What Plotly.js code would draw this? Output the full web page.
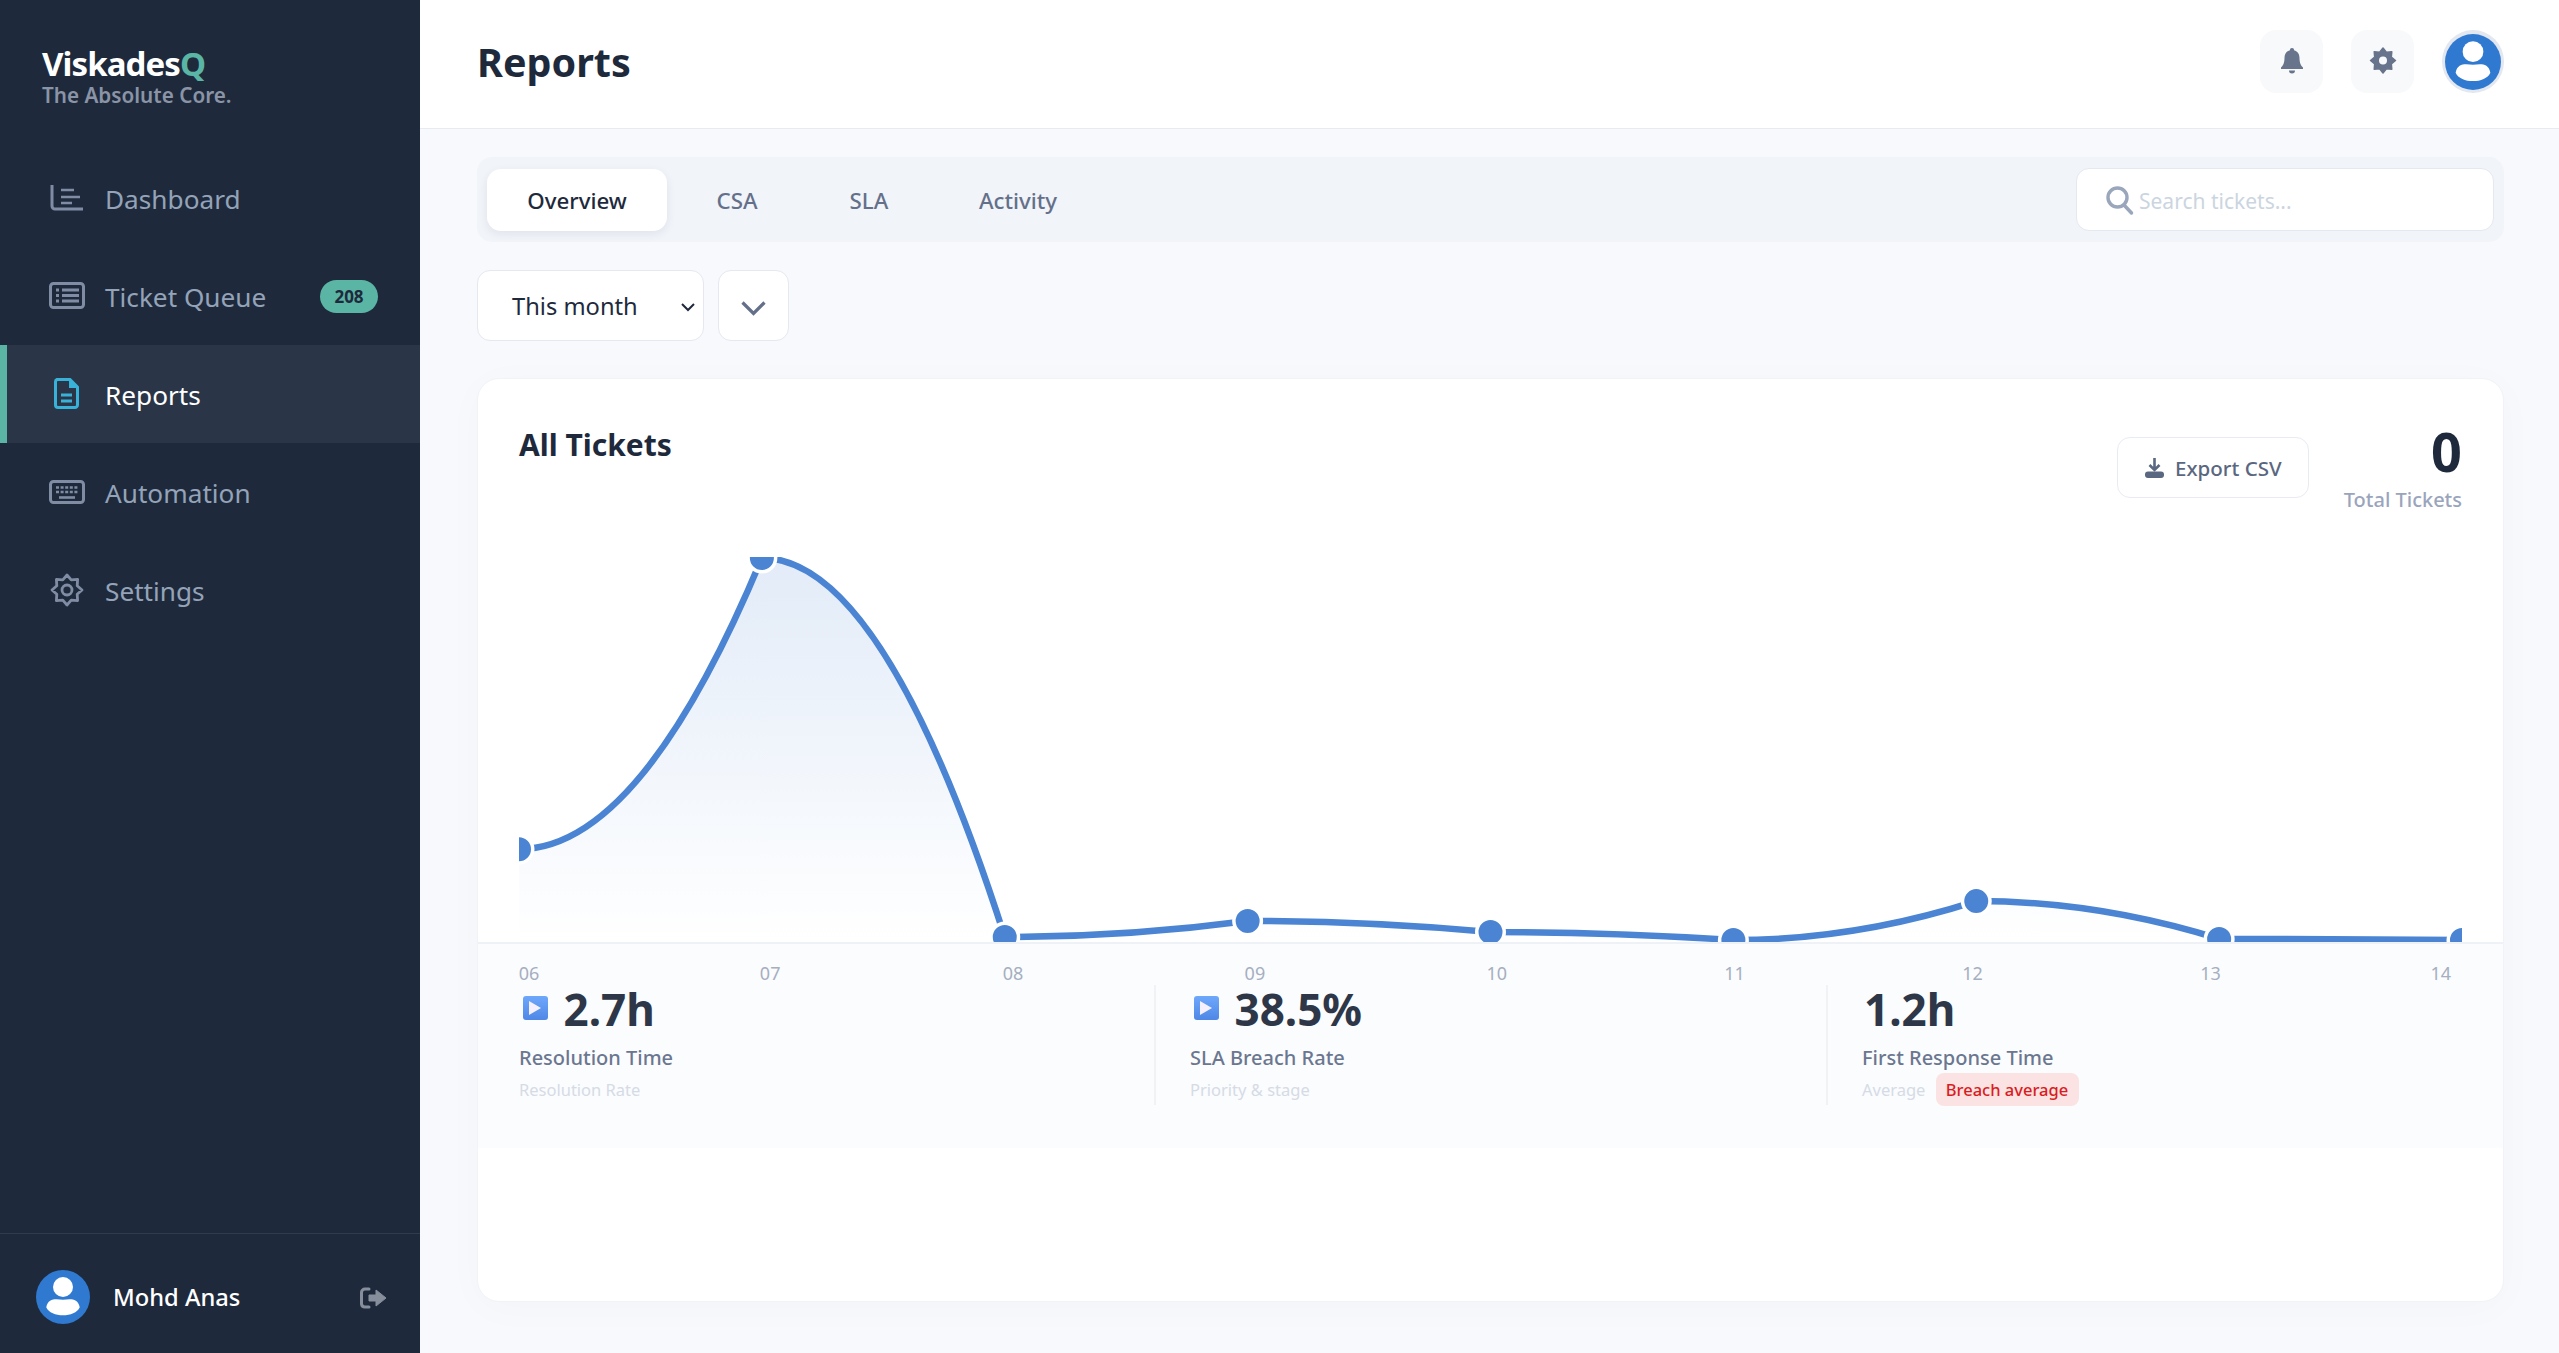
<!DOCTYPE html>
<html><head><meta charset="utf-8">
<script src="https://cdn.plot.ly/plotly-3.0.1.min.js"></script>
<style>
html,body{margin:0;padding:0;background:#f8f9fc;width:2559px;height:1353px;overflow:hidden;font-family:"Noto Sans","Open Sans",sans-serif;}
.b{position:absolute;box-sizing:border-box;}
.t{position:absolute;white-space:nowrap;line-height:1;transform:translateY(-50%);}
.c{transform:translate(-50%,-50%);}
.r{transform:translate(-100%,-50%);}
svg{position:absolute;overflow:visible;}
#chart{position:absolute;left:478px;top:500px;width:2026px;height:520px;}
</style></head><body>
<div id="root"></div>
<div id="chart"></div>
<div id="over"></div>
<script>
// ---- chart data ----
const categories = ['06','07','08','09','10','11','12','13','14'];
const ticketValues = [23.8,100,0.8,5,2.1,0,10.2,0.3,0];
// ---- interface text ----
const navItems = ['Dashboard','Ticket Queue','Reports','Automation','Settings'];
const tabs = ['Overview','CSA','SLA','Activity'];
const statValues = ['2.7h','38.5%','1.2h'];
const statLabels = ['Resolution Time','SLA Breach Rate','First Response Time'];
const statNotes = ['Resolution Rate','Priority & stage','Average'];

const root = document.getElementById('root'), over = document.getElementById('over');
function box(x,y,w,h,css,parent){const d=document.createElement('div');d.className='b';
  d.style.cssText=`left:${x}px;top:${y}px;width:${w}px;height:${h}px;${css||''}`;(parent||root).appendChild(d);return d;}
function txt(x,y,s,size,color,weight,align,parent){const d=document.createElement('div');d.className='t'+(align?' '+align:'');
  d.textContent=s;d.style.cssText=`left:${x}px;top:${y}px;font-size:${size}px;color:${color};font-weight:${weight||400};`;(parent||root).appendChild(d);return d;}
function icon(x,y,w,h,vb,inner,parent){const wrap=document.createElement('div');
  wrap.innerHTML=`<svg style="left:${x}px;top:${y}px" width="${w}" height="${h}" viewBox="${vb}" preserveAspectRatio="none">${inner}</svg>`;(parent||root).appendChild(wrap);}

// sidebar
box(0,0,420,1353,'background:#1e2a3c');
box(0,345,420,98,'background:#2a3648');
box(0,345,7,98,'background:#5ab5a5');
box(0,1233,420,1,'background:#303c4e');
const lg=txt(42,62.5,'Viskades',33,'#ffffff',700);lg.style.letterSpacing='-0.9px';
txt(42+lg.offsetWidth,62.5,'Q',33,'#5ab5a5',700);
txt(42,95,'The Absolute Core.',20.7,'#8a94a6',600);
navItems.forEach((s,i)=>txt(105,199+98*i,s,26.2,i===2?'#ffffff':'#94a3b8',400));
box(320,280,58,33,'background:#5ab5a5;border-radius:17px');
txt(349,296,'208',17,'#1e2a3c',700,'c');
const ic='#7f8ca3';
icon(50,184,33,27,'0 0 33 27',`<path d="M2 1V22a3 3 0 0 0 3 3H33" fill="none" stroke="${ic}" stroke-width="3"/><path d="M11 6H24M11 13H30M11 19H22" stroke="${ic}" stroke-width="2.6"/>`);
icon(49,282,36,27,'0 0 36 27',`<rect x="1.5" y="1.5" width="33" height="24" rx="3" fill="none" stroke="${ic}" stroke-width="3"/><path d="M7 8h3M7 13.5h3M7 19h3M13 8H30M13 13.5H30M13 19H30" stroke="${ic}" stroke-width="2.8"/>`);
icon(54,378,25,31,'0 0 25 31',`<path d="M3 1.5H16L23.5 9V27a2.5 2.5 0 0 1-2.5 2.5H4A2.5 2.5 0 0 1 1.5 27V4A2.5 2.5 0 0 1 3 1.5Z" fill="none" stroke="#38b2d8" stroke-width="3"/><path d="M15 1.5L23.5 10H15Z" fill="#38b2d8"/><path d="M7 17H18M7 23H18" stroke="#38b2d8" stroke-width="2.8"/>`);
icon(49,480,36,24,'0 0 36 24',`<rect x="1.5" y="1.5" width="33" height="21" rx="3" fill="none" stroke="${ic}" stroke-width="3"/><path d="M7 7.5H30M7 12H30" stroke="${ic}" stroke-width="2.6" stroke-dasharray="3 1.6"/><path d="M10 17.5H26" stroke="${ic}" stroke-width="2.6"/>`);
const gearPts=(cx,cy,R,r,n)=>{let p=[];for(let i=0;i<2*n;i++){const a=Math.PI*i/n-Math.PI/2,m=i%2?r:R;p.push((cx+m*Math.cos(a)).toFixed(1)+','+(cy+m*Math.sin(a)).toFixed(1));}return p.join(' ');};
icon(51,574,32,32,'0 0 32 32',`<polygon points="${gearPts(16,16,15,11,8)}" fill="none" stroke="${ic}" stroke-width="2.8" stroke-linejoin="round"/><circle cx="16" cy="16" r="5" fill="none" stroke="${ic}" stroke-width="2.8"/>`);
// sidebar user
const person=(cx,cy,R)=>`<circle cx="${cx}" cy="${cy}" r="${R}" fill="#3079d0"/><circle cx="${cx}" cy="${cy-R*0.37}" r="${R*0.37}" fill="#fff"/><path d="M${cx-R*0.62} ${cy+R*0.38}C${cx-R*0.55} ${cy+R*0.02} ${cx-R*0.25} ${cy+R*0.08} ${cx} ${cy+R*0.1}C${cx+R*0.25} ${cy+R*0.08} ${cx+R*0.55} ${cy+R*0.02} ${cx+R*0.62} ${cy+R*0.38}C${cx+R*0.45} ${cy+R*0.78} ${cx-R*0.45} ${cy+R*0.78} ${cx-R*0.62} ${cy+R*0.38}Z" fill="#fff"/>`;
icon(36,1270,54,54,'36 1270 54 54',person(63,1297,27));
txt(113,1298,'Mohd Anas',23.7,'#ffffff',500);
icon(360,1287,27,22,'0 0 27 22',`<path d="M9 2H5a3.5 3.5 0 0 0-3.5 3.5V17A3.5 3.5 0 0 0 5 20H9" fill="none" stroke="#868e9b" stroke-width="3" stroke-linecap="round"/><path d="M9 8H16V3L26 11L16 19V14H9Z" fill="#868e9b" stroke="#868e9b" stroke-linejoin="round"/>`);

// header
box(420,0,2139,129,'background:#fff;border-bottom:1.5px solid #e6eaf1');
txt(477,62.5,'Reports',39.5,'#1e2a3c',700);
box(2260,30,63,63,'background:#f8f9fb;border-radius:16px');
box(2351,30,63,63,'background:#f8f9fb;border-radius:16px');
icon(2281,48,22,26,'0 0 22 26',`<path d="M11 0a2 2 0 0 1 2 2.3C17 3.4 18.5 6.5 18.5 10C18.5 15 20 17.5 22 19.5V21H0V19.5C2 17.5 3.5 15 3.5 10C3.5 6.5 5 3.4 9 2.3A2 2 0 0 1 11 0ZM8 22.5H14A3 3 0 0 1 8 22.5Z" fill="#68748b"/>`);
icon(2371,48,24,25,'0 0 24 25',`<polygon points="${gearPts(12,12.5,12.5,9,8)}" fill="#68748b" stroke="#68748b" stroke-width="1.5" stroke-linejoin="round"/><circle cx="12" cy="12.5" r="4" fill="#f8f9fb"/>`);
box(2442,30,62,63,'background:#e2e7f0;border-radius:50%');
icon(2445,33.5,56,56,'2445 33 56 56',person(2473,61,28));

// tabs
box(477,157,2027,85,'background:#f1f4f9;border-radius:15px');
box(487,169,180,62,'background:#fff;border-radius:14px;box-shadow:0 3px 10px rgba(30,42,60,.08)');
[577,737,869,1018].forEach((x,i)=>txt(x,201,tabs[i],22.3,i===0?'#1e2a3c':'#64708a',500,'c'));
box(2076,168,418,63,'background:#fff;border:1.5px solid #e4e8f0;border-radius:13px');
icon(2106,186,27,28,'0 0 27 28',`<circle cx="11.5" cy="11.5" r="9.5" fill="none" stroke="#9aa6bb" stroke-width="3.4"/><path d="M18 19L25.5 27" stroke="#9aa6bb" stroke-width="3.4" stroke-linecap="round"/>`);
txt(2139,201,'Search tickets...',21,'#cbd5e0',400);

// filter controls
box(477,270,227,71,'background:#fff;border:1.5px solid #e4e8f0;border-radius:13px');
txt(512,306.5,'This month',23.7,'#1e2a3c',400);
icon(681,303,14,8,'0 0 14 8','<path d="M1 1L7 7L13 1" fill="none" stroke="#1e2a3c" stroke-width="2"/>');
box(718,270,71,71,'background:#fff;border:1.5px solid #e4e8f0;border-radius:13px');
icon(741,301,25,14,'0 0 25 14','<path d="M1.5 1.5L12.5 12.5L23.5 1.5" fill="none" stroke="#64708a" stroke-width="3.2"/>');

// card
box(477,378,2027,924,'background:#fff;border:1px solid #f1f3f8;border-radius:22px;box-shadow:0 6px 40px rgba(30,42,60,.025)');
box(478,942,2025,206,'background:#fbfcfe;border-top:2px solid #eef1f6');
txt(519,445,'All Tickets',30,'#1e2a3c',700);
box(2117,437,192,61,'background:#fff;border:1.5px solid #e8ebf3;border-radius:13px');
icon(2145,458,19,20,'0 0 19 20',`<path d="M9.5 0V11M4.5 7L9.5 12L14.5 7" fill="none" stroke="#5a6780" stroke-width="2.6"/><rect x="0" y="13.5" width="19" height="6.5" rx="3" fill="#5a6780"/>`);
txt(2175,468,'Export CSV',20.5,'#5a6780',500);
txt(2462,451,'0',54,'#1e2a3c',700,'r');
txt(2462,500,'Total Tickets',20,'#9aa5bd',500,'r');

// stats (drawn above the chart's transparent layer)
const statX=[519,1190,1862];
statValues.forEach((v,i)=>{const x=statX[i];
  if(i<2){box(x+4,996,25,24,'background:linear-gradient(#6ea8fb,#4f87e6);border-radius:3px',over);
    icon(x+10,1001,12,14,'0 0 12 14','<path d="M0 0L12 7L0 14Z" fill="#f5f0fc"/>',over);}
  txt(i<2?x+44.5:x+2,1009,v,44,'#2d3748',700,'',over);
  txt(x,1058,statLabels[i],20,'#6b7790',500,'',over);
  txt(x,1090,statNotes[i],16.5,'#d5dbe5',400,'',over);
});
box(1154,985,1.5,120,'background:#f0f2f6',over);
box(1826,985,1.5,120,'background:#f0f2f6',over);
box(1936,1073,143,33,'background:#fbe3e3;border-radius:8px',over);
txt(2007,1090,'Breach average',16.5,'#d91c22',500,'c',over);

// Chart: each segment leaves its point level and arrives on the next, built from the data
const pos = categories.map((_,i)=>i);
const yBase = -0.5;
let curve = `M${pos[0]},${ticketValues[0]}`;
for(let i=1;i<pos.length;i++){
  curve += ` Q${(pos[i-1]+pos[i])/2},${ticketValues[i-1]} ${pos[i]},${ticketValues[i]}`;
}
const area = `${curve} L${pos[pos.length-1]},${yBase} L${pos[0]},${yBase} Z`;
const trace = {x:pos,y:ticketValues,type:'scatter',mode:'markers',
  marker:{size:27.5,color:'#4a84d2',line:{color:'#ffffff',width:3.5}},
  cliponaxis:true,hoverinfo:'x+y'};
const layout = {width:2026,height:520,margin:{l:41,r:42,t:57,b:78},
  paper_bgcolor:'rgba(0,0,0,0)',plot_bgcolor:'rgba(0,0,0,0)',showlegend:false,
  shapes:[
    {type:'path',path:area,xref:'x',yref:'y',layer:'below',fillcolor:'rgba(74,132,210,0.08)',line:{width:0}},
    {type:'path',path:curve,xref:'x',yref:'y',layer:'below',fillcolor:'rgba(0,0,0,0)',line:{color:'#4a84d2',width:6.5}}
  ],
  xaxis:{type:'linear',range:[0,8],showgrid:false,zeroline:false,showline:false,
    tickmode:'array',
    tickvals:[0.041,1.034,2.034,3.03,4.026,5.005,5.985,6.965,7.913],ticktext:categories,
    ticks:'outside',ticklen:15.5,tickcolor:'rgba(0,0,0,0)',
    tickfont:{family:'"Noto Sans",sans-serif',size:18,color:'#a5afc0'}},
  yaxis:{range:[yBase,100.26],visible:false,fixedrange:true}};
function paintArea(){
  const gd=document.getElementById('chart');
  const svg=gd.querySelector('svg.main-svg');
  let defs=svg.querySelector('defs');
  if(!gd.querySelector('#areaGrad')){
    const NS='http://www.w3.org/2000/svg';
    const g=document.createElementNS(NS,'linearGradient');
    g.setAttribute('id','areaGrad');g.setAttribute('x1','0');g.setAttribute('y1','0');g.setAttribute('x2','0');g.setAttribute('y2','1');
    [[0,0.16],[1,0]].forEach(([o,a])=>{const s=document.createElementNS(NS,'stop');
      s.setAttribute('offset',o);s.setAttribute('stop-color','#4a84d2');s.setAttribute('stop-opacity',a);g.appendChild(s);});
    defs.appendChild(g);
  }
  const p=gd.querySelector('.shapelayer path[data-index="0"]');
  if(p){p.style.fill='url(#areaGrad)';p.style.fillOpacity=1;}
}
Plotly.newPlot('chart',[trace],layout,{displayModeBar:false,responsive:false}).then(paintArea);
</script>
</body></html>
